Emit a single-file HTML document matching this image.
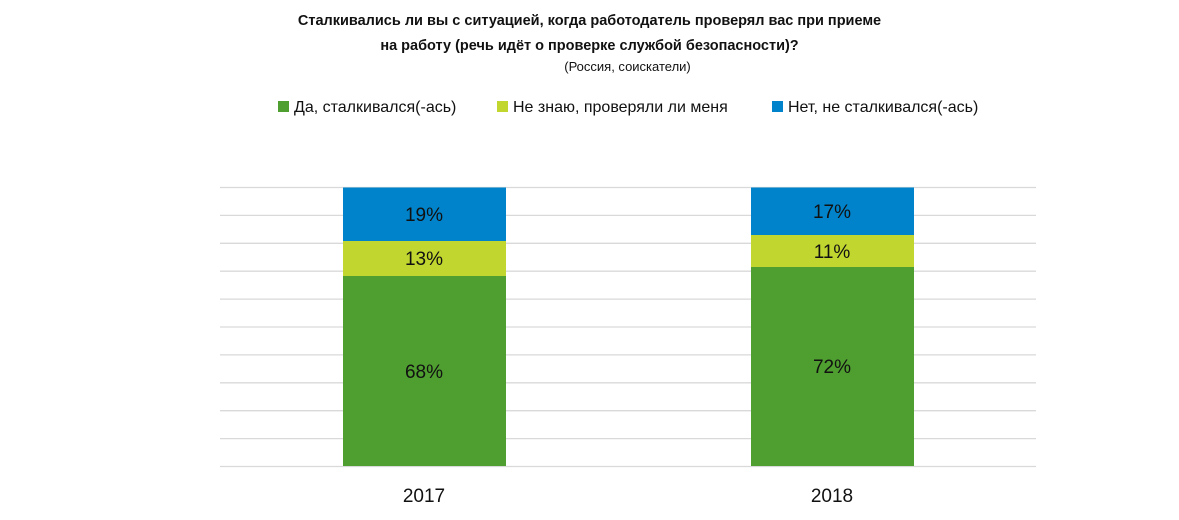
<!DOCTYPE html>
<html><head><meta charset="utf-8"><style>
body{margin:0;width:1179px;height:520px;background:#fff;font-family:"Liberation Sans",sans-serif;position:relative;overflow:hidden}
.t{position:absolute;left:0;width:1179px;text-align:center;color:#111}
</style></head><body>
<div class="t" style="top:9px;font-size:14.5px;font-weight:bold;line-height:25px">Сталкивались ли вы с ситуацией, когда работодатель проверял вас при приеме<br>на работу (речь идёт о проверке службой безопасности)?</div>
<div class="t" style="top:59px;font-size:13px;left:38px">(Россия, соискатели)</div>
<svg width="1179" height="520" style="position:absolute;left:0;top:0" font-family="Liberation Sans, sans-serif">
<g font-size="16" fill="#111">
<rect x="278" y="101" width="11" height="11" fill="#4f9e30"/><text x="294" y="112">Да, сталкивался(-ась)</text>
<rect x="497" y="101" width="11" height="11" fill="#c1d72f"/><text x="513" y="112">Не знаю, проверяли ли меня</text>
<rect x="772" y="101" width="11" height="11" fill="#0083ca"/><text x="788" y="112">Нет, не сталкивался(-ась)</text>
</g>
<g stroke="#d9d9d9" stroke-width="1.3">
<line x1="220" x2="1036" y1="187.5" y2="187.5"/><line x1="220" x2="1036" y1="215.4" y2="215.4"/>
<line x1="220" x2="1036" y1="243.3" y2="243.3"/><line x1="220" x2="1036" y1="271.2" y2="271.2"/>
<line x1="220" x2="1036" y1="299.1" y2="299.1"/><line x1="220" x2="1036" y1="327" y2="327"/>
<line x1="220" x2="1036" y1="354.9" y2="354.9"/><line x1="220" x2="1036" y1="382.8" y2="382.8"/>
<line x1="220" x2="1036" y1="410.7" y2="410.7"/><line x1="220" x2="1036" y1="438.6" y2="438.6"/>
<line x1="220" x2="1036" y1="466.5" y2="466.5"/>
</g>
<rect x="343" y="187.5" width="163" height="53.5" fill="#0083ca"/>
<rect x="343" y="241" width="163" height="35" fill="#c1d72f"/>
<rect x="343" y="276" width="163" height="190" fill="#4f9e30"/>
<rect x="751" y="187.5" width="163" height="47.5" fill="#0083ca"/>
<rect x="751" y="235" width="163" height="32" fill="#c1d72f"/>
<rect x="751" y="267" width="163" height="199" fill="#4f9e30"/>
<g font-size="19" fill="#111" text-anchor="middle">
<text x="424" y="221">19%</text><text x="424" y="265">13%</text><text x="424" y="378">68%</text>
<text x="832" y="218">17%</text><text x="832" y="258">11%</text><text x="832" y="373">72%</text>
<text x="424" y="502">2017</text><text x="832" y="502">2018</text>
</g>
</svg>
</body></html>
